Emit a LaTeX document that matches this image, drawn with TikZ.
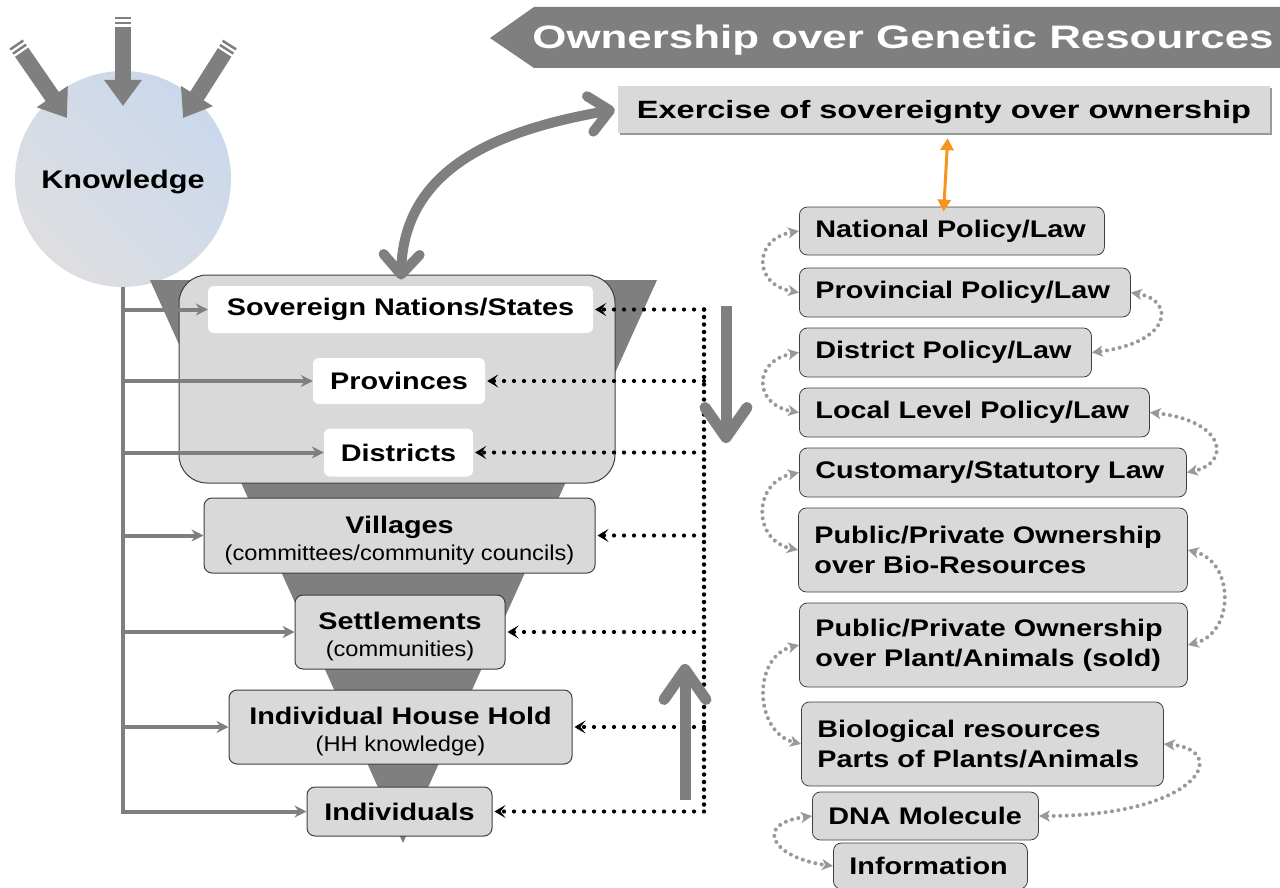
\documentclass[tikz,border=0pt]{standalone}
\usepackage{fontspec}
\setmainfont{Liberation Sans}
\newfontfamily\fBan[FakeStretch=1.35]{Liberation Sans}
\newfontfamily\fEx[FakeStretch=1.3]{Liberation Sans}
\newfontfamily\fB[FakeStretch=1.2]{Liberation Sans}
\newfontfamily\fS[FakeStretch=1.1]{Liberation Sans}
\usetikzlibrary{arrows.meta,shadows}
\definecolor{boxgray}{HTML}{D9D9D9}
\definecolor{midgray}{HTML}{7F7F7F}
\definecolor{dotgray}{HTML}{999999}
\definecolor{edgegray}{HTML}{3F3F3F}
\definecolor{orng}{HTML}{F7941D}
\definecolor{kgray}{HTML}{DEDEE0}
\definecolor{kblue}{HTML}{CAD8EC}
\newcommand\nbx[1]{\mbox{#1}}
\newcommand\tstrut{\rule{0pt}{27pt}}
\newcommand\lowr[2]{\raisebox{-#1}[\height][\depth]{#2}}
\begin{document}
\begin{tikzpicture}[x=1pt,y=-1pt,
  funbox/.style={draw=edgegray, line width=1pt, fill=boxgray, rounded corners=8pt, inner sep=0pt, align=center,
    font=\fB\bfseries\fontsize{24}{27}\selectfont},
  whitebox/.style={fill=white, rounded corners=6pt, inner sep=0pt, font=\fB\bfseries\fontsize{24}{27}\selectfont},
  rbox/.style={draw=edgegray, line width=0.8pt, fill=boxgray, rounded corners=8pt, inner xsep=16pt, inner ysep=0pt,
    align=left, anchor=west, font=\fB\bfseries\fontsize{24}{30}\selectfont},
  feed/.style={draw=midgray, line width=4pt, -{Stealth[length=12pt,width=12pt,inset=4pt]}},
  dotline/.style={line width=4.5pt, line cap=round, dash pattern=on 0pt off 7.5pt},
  dotarrow/.style={line width=4.2pt, line cap=round, dash pattern=on 0pt off 10pt, shorten >=2pt,
    -{Stealth[length=11pt,width=13pt,inset=5pt]}},
  dotg/.style={draw=dotgray, line width=4pt, line cap=round, dash pattern=on 0pt off 6.5pt,
    {Stealth[length=11pt,width=11pt,inset=3pt]}-{Stealth[length=11pt,width=11pt,inset=3pt]}},
  toparrow/.style={draw=midgray, line width=16pt, dash pattern=on 2.5pt off 2.5pt on 2.5pt off 2.5pt on 400pt off 0pt,
    -{Triangle[length=26pt,width=36pt]}},
  bigarrow/.style={draw=midgray, line width=11pt, -{Straight Barb[length=30pt,width=42pt,round]}},
  bigcurve/.style={draw=midgray, line width=10pt,
    {Straight Barb[length=20pt,width=36pt,round]}-{Straight Barb[length=20pt,width=36pt,round]}}
]
\useasboundingbox (0,0) rectangle (1280,888);

% ---------- banner ----------
\fill[midgray] (490,38) -- (534,7) -- (1280,7) -- (1280,68) -- (534,68) -- cycle;
\node[text=white, inner sep=0pt, font=\fBan\bfseries\fontsize{32.5}{36}\selectfont] (banner) at (903,38) {\lowr{2pt}{Ownership over Genetic Resources}};

% ---------- exercise box ----------
\node[fill=boxgray, minimum width=652pt, minimum height=47pt, inner sep=0pt,
  drop shadow={shadow xshift=2pt, shadow yshift=-2pt, fill=gray!80, opacity=1},
  font=\fEx\bfseries\fontsize{25}{30}\selectfont] (exer) at (944,109.5) {\lowr{3pt}{Exercise of sovereignty over ownership}};

% ---------- knowledge ----------
\node[circle, minimum size=216pt, inner sep=0pt, bottom color=kgray, top color=kblue, shading angle=-45,
  font=\fB\bfseries\fontsize{25.5}{30}\selectfont] (knowledge) at (123,179) {\lowr{3pt}{Knowledge}};
\coordinate (ta1) at (16,44);  \coordinate (tb1) at (67,118);
\coordinate (ta2) at (123,17); \coordinate (tb2) at (123,106);
\coordinate (ta3) at (230,44); \coordinate (tb3) at (183,118);
\draw[toparrow] (ta1) -- (tb1);
\draw[toparrow] (ta2) -- (tb2);
\draw[toparrow] (ta3) -- (tb3);

% ---------- funnel ----------
\fill[midgray] (150,280) -- (657,280) -- (403,843) -- cycle;
\node[draw=edgegray, line width=1pt, fill=boxgray, rounded corners=28pt, minimum width=436pt, minimum height=208pt, inner sep=0pt] (fbig) at (397,379) {};
\node[whitebox, minimum width=385pt, minimum height=47pt] (fsov) at (400.5,309.5) {Sovereign Nations/States};
\node[whitebox, minimum width=172pt, minimum height=46pt] (fprov) at (399,381) {Provinces};
\node[whitebox, minimum width=149pt, minimum height=48pt] (fdist) at (398.5,452.5) {Districts};
\node[funbox, minimum width=391pt, minimum height=75pt] (fvill) at (399.5,535.5)
  {\tstrut Villages\\[0pt]{\fS\mdseries\fontsize{21.5}{26}\selectfont (committees/community councils)}};
\node[funbox, minimum width=210pt, minimum height=74pt] (fsett) at (400,632)
  {\tstrut Settlements\\[0pt]{\fS\mdseries\fontsize{21.5}{26}\selectfont (communities)}};
\node[funbox, minimum width=343pt, minimum height=74pt] (fhh) at (400.5,727)
  {\tstrut Individual House Hold\\[0pt]{\fS\mdseries\fontsize{21.5}{26}\selectfont (HH knowledge)}};
\node[funbox, minimum width=185pt, minimum height=49pt] (find) at (399.5,811.5) {Individuals};

% ---------- knowledge feed lines ----------
\draw[feed] (knowledge.south) |- (find.west);
\foreach \n in {fsov,fprov,fdist,fvill,fsett,fhh} \draw[feed] (knowledge.south |- \n.west) -- (\n.west);

% ---------- dotted feedback ----------
\coordinate (dv) at (704,309);
\draw[dotline] (dv |- fsov.east) -- (dv |- find.east);
\foreach \n in {fsov,fprov,fdist,fvill,fsett,fhh,find} \draw[dotarrow] (dv |- \n.east) -- (\n.east);

% ---------- big arrows ----------
\coordinate (da) at (726,306); \coordinate (db) at (726,443);
\coordinate (ua) at (685,800); \coordinate (ub) at (685,664);
\draw[bigarrow] (da) -- (db);
\draw[bigarrow] (ua) -- (ub);
\draw[bigcurve] ([xshift=4pt,yshift=-5pt]fbig.north) .. controls +(3,-120) and +(-100,18) .. ([xshift=-3pt]exer.west);

% ---------- right column ----------
\node[rbox, text width=273pt, minimum height=48pt] (rnat) at (799,231) {\nbx{National Policy/Law}};
\node[rbox, text width=299pt, minimum height=49pt] (rprov) at (799,292.5) {\nbx{Provincial Policy/Law}};
\node[rbox, text width=260pt, minimum height=49pt] (rdist) at (799,352.5) {\nbx{District Policy/Law}};
\node[rbox, text width=318pt, minimum height=49pt] (rloc) at (799,412.5) {\nbx{Local Level Policy/Law}};
\node[rbox, text width=355pt, minimum height=49pt] (rcust) at (799,472.5) {\nbx{Customary/Statutory Law}};
\node[rbox, text width=357pt, minimum height=84pt] (rpbio) at (798,550) {\nbx{Public/Private Ownership}\\\nbx{over Bio-Resources}};
\node[rbox, text width=356pt, minimum height=84pt] (rpplant) at (799,645) {\nbx{Public/Private Ownership}\\\nbx{over Plant/Animals (sold)}};
\node[rbox, text width=330pt, minimum height=84pt] (rbio) at (801,744) {\nbx{Biological resources}\\\nbx{Parts of Plants/Animals}};
\node[rbox, text width=194pt, minimum height=48pt] (rdna) at (812,816) {\nbx{DNA Molecule}};
\node[rbox, text width=162pt, minimum height=46pt] (rinfo) at (833,866) {\nbx{Information}};

\draw[orng, line width=3pt, shorten <=5pt, shorten >=-5pt,
  {Triangle[length=12pt,width=13pt]}-{Triangle[length=12pt,width=13pt]}] ([xshift=4pt]exer.south) -- ([xshift=-8pt]rnat.north);

\draw[dotg] (rnat.west) .. controls +(-46,8) and +(-46,-8) .. (rprov.west);
\draw[dotg] (rprov.east) .. controls +(45,8) and +(80,-10) .. (rdist.east);
\draw[dotg] (rdist.west) .. controls +(-46,8) and +(-46,-8) .. (rloc.west);
\draw[dotg] (rloc.east) .. controls +(75,8) and +(45,-10) .. (rcust.east);
\draw[dotg] (rcust.west) .. controls +(-46,10) and +(-46,-10) .. (rpbio.west);
\draw[dotg] (rpbio.east) .. controls +(47,12) and +(47,-12) .. (rpplant.east);
\draw[dotg] (rpplant.west) .. controls +(-47,12) and +(-47,-12) .. (rbio.west);
\draw[dotg] (rbio.east) .. controls +(67,6) and +(162,0) .. (rdna.east);
\draw[dotg] (rdna.west) .. controls +(-60,8) and +(-60,-8) .. (rinfo.west);
\end{tikzpicture}
\end{document}
